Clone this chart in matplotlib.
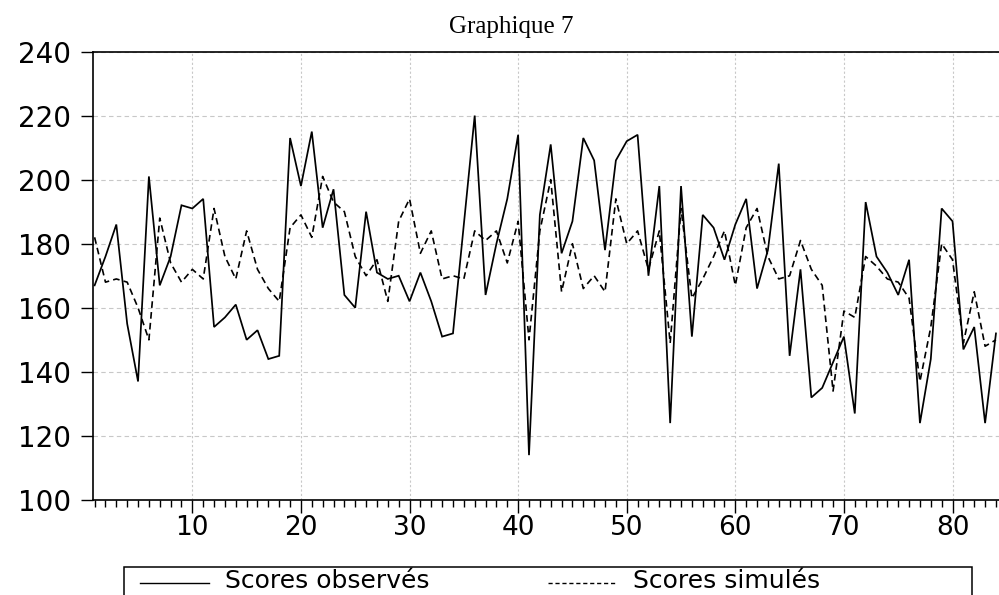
import matplotlib
matplotlib.use('Agg')
import matplotlib.pyplot as plt
from matplotlib.lines import Line2D
from matplotlib.patches import Rectangle
from matplotlib.ticker import MultipleLocator
import numpy as np

# scores par observation
observes = [167, 176, 186, 155, 137, 201, 167, 176, 192, 191,
            194, 154, 157, 161, 150, 153, 144, 145, 213, 198,
            215, 185, 197, 164, 160, 190, 171, 169, 170, 162,
            171, 162, 151, 152, 186, 220, 164, 180, 194, 214,
            114, 189, 211, 177, 187, 213, 206, 178, 206, 212,
            214, 170, 198, 124, 198, 151, 189, 185, 175, 186,
            194, 166, 178, 205, 145, 172, 132, 135, 143, 151,
            127, 193, 176, 171, 164, 175, 124, 144, 191, 187,
            147, 154, 124, 152]
simules = [182, 168, 169, 168, 160, 150, 188, 174, 168, 172,
           169, 191, 176, 169, 184, 172, 166, 162, 185, 189,
           182, 201, 193, 190, 176, 170, 175, 162, 187, 194,
           177, 184, 169, 170, 169, 184, 181, 184, 174, 187,
           150, 184, 200, 165, 180, 166, 170, 165, 194, 180,
           184, 172, 184, 149, 191, 163, 169, 176, 184, 167,
           185, 191, 176, 169, 170, 181, 172, 167, 134, 159,
           157, 176, 173, 169, 168, 163, 137, 154, 180, 175,
           149, 165, 148, 150]
obs = np.arange(1, len(observes) + 1)
labels = ['Scores observés', 'Scores simulés']

fig = plt.figure(figsize=(9.99, 5.95), dpi=100)
ax = fig.add_axes([93.3/999, 1 - 500/595, 1 - 93.3/999, (500 - 51.5)/595])

ax.plot(obs, observes, color='black', lw=1.25, solid_joinstyle='miter')
ax.plot(obs, simules, color='black', lw=1.2, ls=(0, (4, 2.5)))

ax.set_xlim(0.88, 84.28)
ax.set_ylim(100, 240)
ax.xaxis.set_major_locator(MultipleLocator(10))
ax.xaxis.set_minor_locator(MultipleLocator(1))
ax.yaxis.set_major_locator(MultipleLocator(20))

ax.grid(True, axis='y', color='#c8c8c8', ls=(0, (4, 3)), lw=0.8)
ax.grid(True, axis='x', color='#c8c8c8', ls=(0, (2, 2)), lw=0.8)
ax.set_axisbelow(True)

ax.spines['right'].set_visible(False)
for s in ['top', 'left', 'bottom']:
    ax.spines[s].set_linewidth(1.2)

ax.tick_params(axis='y', direction='out', length=9, width=1, pad=7, labelsize=20)
ax.tick_params(axis='x', which='major', direction='out', length=9, width=1, pad=2, labelsize=19)
ax.tick_params(axis='x', which='minor', direction='out', length=5, width=1)

fig.text(511/999, 1 - 33/595, 'Graphique 7', family='Liberation Serif',
         fontsize=18, ha='center', va='baseline')

# legende encadree en bas
fig.patches.append(Rectangle((123.5/999, -0.05), (971.5 - 123.5)/999, 0.05 + (595 - 567)/595,
                             transform=fig.transFigure, fill=False, ec='black', lw=1.1))
yl = 1 - 583/595
fig.lines.append(Line2D([140/999, 209/999], [yl, yl], transform=fig.transFigure,
                        color='black', lw=1.0))
fig.lines.append(Line2D([548/999, 617/999], [yl, yl], transform=fig.transFigure,
                        color='black', lw=1.0, ls=(0, (3, 2))))
fig.text(225/999, 1 - 581/595, labels[0], fontsize=18, va='center', ha='left')
fig.text(633/999, 1 - 581/595, labels[1], fontsize=18, va='center', ha='left')

plt.savefig('out.png', dpi=100)
